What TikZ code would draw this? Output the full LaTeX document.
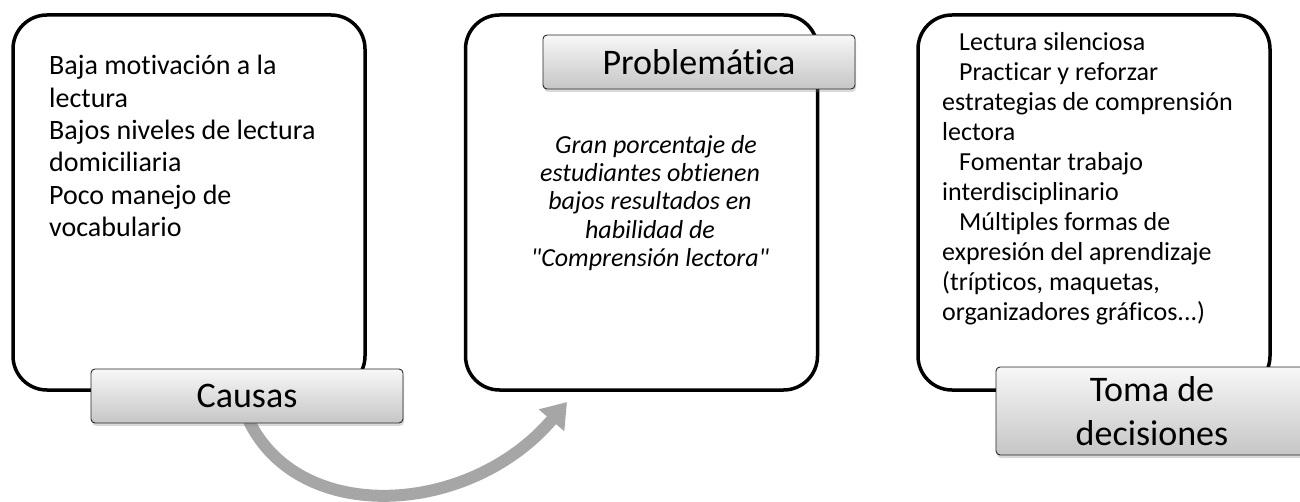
\documentclass[tikz,border=0pt]{standalone}
\usepackage{fontspec}
\setmainfont{Carlito}[Ligatures={NoCommon,TeXOff}]
\usetikzlibrary{arrows.meta,shadows}

\begin{document}
\begin{tikzpicture}[x=1pt,y=1pt,
  bigbox/.style={draw=black,line width=3.5pt,rounded corners=34pt,minimum width=352pt,minimum height=375pt},
  tagbox/.style={draw=black!85,line width=0.9pt,rounded corners=4pt,top color=gray!6,bottom color=gray!45,
    minimum width=312pt,minimum height=54pt,inner sep=0pt,align=center,
    drop shadow={opacity=0.3,shadow xshift=1pt,shadow yshift=-3pt},font=\fontsize{36}{44}\selectfont},
  boxtext/.style={anchor=north west,align=left,inner sep=0pt},
  flow/.style={draw=black!35,line width=12pt,-{Triangle[width=32pt,length=24pt]}}]
\useasboundingbox (0,0) rectangle (1300,501);
% the three big boxes
\node[bigbox] (causasbox) at (189,298.5) {};
\node[bigbox] (probbox) at (641.5,298.5) {};
\node[bigbox] (tomabox) at (1094,298.5) {};
% texts inside
\node[boxtext,font=\fontsize{28}{32.4}\selectfont] (causastext) at (49,446)
  {Baja motivación a la\\lectura\\Bajos niveles de lectura\\domiciliaria\\Poco manejo de\\vocabulario};
\node[align=center,inner sep=0pt,font=\fontsize{26}{28.4}\selectfont\itshape] (probtext) at (650,298)
  {\hspace*{12pt}Gran porcentaje de\\estudiantes obtienen\\bajos resultados en\\habilidad de\\"Comprensión lectora"};
\node[boxtext,font=\fontsize{26}{30}\selectfont] (tomatext) at (942,469)
  {\hspace*{17pt}Lectura silenciosa\\\hspace*{17pt}Practicar y reforzar\\estrategias de comprensión\\lectora\\
   \hspace*{17pt}Fomentar trabajo\\interdisciplinario\\\hspace*{17pt}Múltiples formas de\\expresión del aprendizaje\\
   (trípticos, maquetas,\\organizadores gráficos...)};
% arrow from causas to problematica
\coordinate (tip) at (567,99);
\draw[flow] (249,80) .. controls (300,-25) and (470,-15) .. (tip);
% labels
\node[tagbox] (causas) at (247,105) {Causas};
\node[tagbox] (prob) at (699,439) {Problemática};
\node[tagbox,minimum height=88pt] (toma) at (1152,90) {Toma de\\decisiones};
\end{tikzpicture}
\end{document}
